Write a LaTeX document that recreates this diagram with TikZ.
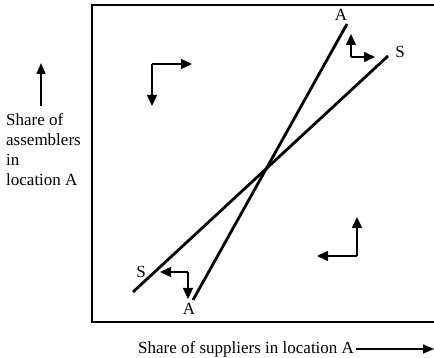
\documentclass[tikz,border=0pt]{standalone}
\usepackage{fontspec}
\setmainfont{Liberation Serif}
\usetikzlibrary{arrows.meta}
\begin{document}
\begin{tikzpicture}[x=1pt,y=-1pt,
  lbl/.style={font=\fontsize{17}{20}\selectfont, inner sep=0pt},
  curve/.style={line width=2.8pt},
  box/.style={line width=2.2pt},
  small/.style={line width=1.4pt,-{Triangle[length=11pt,width=10pt]}},
  axis/.style={line width=1.3pt,-{Triangle[length=11pt,width=9pt]}}]
\useasboundingbox (0,0) rectangle (434,358);
% frame
\draw[box] (440,5) -- (92,5) -- (92,322) -- (440,322);
% curves
\coordinate (a1) at (193,300);
\coordinate (a2) at (347,24);
\coordinate (s1) at (133,292);
\coordinate (s2) at (388,56);
\draw[curve] (a1) -- (a2);
\draw[curve] (s1) -- (s2);
\node[lbl] (Atop) at (341,15) {A};
\node[lbl] (Abot) at (189,309) {A};
\node[lbl] (Stop) at (400,52) {S};
\node[lbl] (Sbot) at (141,272) {S};
% small arrows
\coordinate (c1) at (152,64);
\coordinate (c1r) at (192,64);
\coordinate (c1d) at (152,106);
\draw[small] (c1) -- (c1r);
\draw[small] (c1) -- (c1d);
\coordinate (c2) at (351,57);
\coordinate (c2u) at (351,34);
\coordinate (c2r) at (375,57);
\draw[small] (c2) -- (c2u);
\draw[small] (c2) -- (c2r);
\coordinate (c3) at (357,256);
\coordinate (c3u) at (357,217);
\coordinate (c3l) at (317,256);
\draw[small] (c3) -- (c3u);
\draw[small] (c3) -- (c3l);
\coordinate (c4) at (188,272);
\coordinate (c4l) at (160,272);
\coordinate (c4d) at (188,299);
\draw[small] (c4) -- (c4l);
\draw[small] (c4) -- (c4d);
% axes labels
\node[lbl, anchor=north west, align=left] (ylab) at (6,113) {Share of\\assemblers\\in\\location A};
\coordinate (ya) at (41,106);
\coordinate (yb) at (41,63);
\draw[axis] (ya) -- (yb);
\node[lbl, anchor=west] (xlab) at (138,349) {Share of suppliers in location A};
\coordinate (xb) at (434,349);
\draw[axis] ([xshift=2pt]xlab.east) -- (xb);
\end{tikzpicture}
\end{document}
